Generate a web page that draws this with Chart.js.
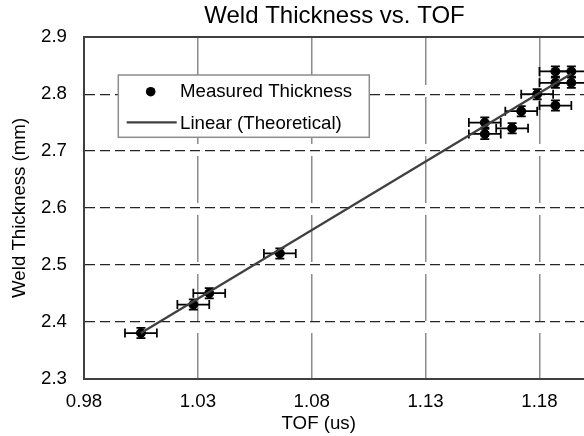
<!DOCTYPE html>
<html><head><meta charset="utf-8">
<script src="https://cdn.jsdelivr.net/npm/chart.js@4.4.1/dist/chart.umd.min.js"></script>
<style>
html,body{margin:0;padding:0;background:#fff;overflow:hidden;}
body{width:584px;height:436px;}
canvas{display:block;}
</style></head><body>
<canvas id="c" width="600" height="436"></canvas>
<script>
const FONT = '"Liberation Sans", Arial, sans-serif';
const chartTitle = 'Weld Thickness vs. TOF';
const xAxisTitle = 'TOF (us)';
const yAxisTitle = 'Weld Thickness (mm)';
const seriesNames = ['Measured Thickness', 'Linear (Theoretical)'];

const tofValues       = [1.005, 1.028, 1.035, 1.066, 1.156, 1.156, 1.168, 1.172, 1.179, 1.187, 1.187, 1.187, 1.194, 1.194];
const thicknessValues = [2.38,  2.43,  2.45,  2.52,  2.75,  2.73,  2.74,  2.77,  2.80,  2.84,  2.82,  2.78,  2.84,  2.82];
const tofErrors       = [0.007, 0.007, 0.007, 0.007, 0.007, 0.007, 0.007, 0.007, 0.007, 0.007, 0.007, 0.007, 0.007, 0.007];
const thicknessErrors = [0.009, 0.009, 0.009, 0.009, 0.009, 0.009, 0.009, 0.009, 0.009, 0.009, 0.009, 0.009, 0.009, 0.009];

const trendTof       = [1.005, 1.194];
const trendThickness = [2.38, 2.836];

const xTickValues = [0.98, 1.03, 1.08, 1.13, 1.18];
const yTickValues = [2.3, 2.4, 2.5, 2.6, 2.7, 2.8, 2.9];
const xRange = [0.98, 1.2];
const yRange = [2.3, 2.9];

const errorBarPlugin = {
  id: 'errorBars',
  beforeDatasetsDraw(chart) {
    const {ctx, scales: {x, y}} = chart;
    ctx.save();
    ctx.strokeStyle = '#000';
    ctx.lineWidth = 1.75;
    const cap = 4.5;
    tofValues.forEach((t, i) => {
      const v = thicknessValues[i];
      const px = x.getPixelForValue(t), py = y.getPixelForValue(v);
      const xl = x.getPixelForValue(t - tofErrors[i]), xr = x.getPixelForValue(t + tofErrors[i]);
      const yt = y.getPixelForValue(v + thicknessErrors[i]), yb = y.getPixelForValue(v - thicknessErrors[i]);
      ctx.beginPath();
      ctx.moveTo(xl, py); ctx.lineTo(xr, py);
      ctx.moveTo(xl, py - cap); ctx.lineTo(xl, py + cap);
      ctx.moveTo(xr, py - cap); ctx.lineTo(xr, py + cap);
      ctx.moveTo(px, yt); ctx.lineTo(px, yb);
      ctx.moveTo(px - cap, yt); ctx.lineTo(px + cap, yt);
      ctx.moveTo(px - cap, yb); ctx.lineTo(px + cap, yb);
      ctx.stroke();
    });
    ctx.restore();
  }
};

const textPlugin = {
  id: 'texts',
  afterDraw(chart) {
    const {ctx, chartArea: a} = chart;
    ctx.save();
    ctx.fillStyle = '#000';
    ctx.textBaseline = 'alphabetic';
    ctx.textAlign = 'center';
    ctx.font = '24px ' + FONT;
    ctx.fillText(chartTitle, (a.left + a.right) / 2, 23);
    ctx.font = '18.67px ' + FONT;
    ctx.fillText(xAxisTitle, a.left + 234.7, 429);

    // legend box
    const lx = a.left + 34.3, ly = a.top + 37.7, lw = 251, lh = 62.3;
    ctx.fillStyle = '#fff';
    ctx.fillRect(lx, ly, lw, lh);
    ctx.strokeStyle = '#8c8c8c';
    ctx.lineWidth = 1.5;
    ctx.strokeRect(lx, ly, lw, lh);
    ctx.fillStyle = '#000';
    ctx.beginPath();
    ctx.arc(lx + 32.4, ly + 16.7, 4.8, 0, Math.PI * 2);
    ctx.fill();
    ctx.strokeStyle = '#404040';
    ctx.lineWidth = 2.25;
    ctx.beginPath();
    ctx.moveTo(lx + 8.4, ly + 47.3);
    ctx.lineTo(lx + 58.4, ly + 47.3);
    ctx.stroke();
    ctx.textAlign = 'left';
    ctx.font = '18.67px ' + FONT;
    ctx.fillText(seriesNames[0], lx + 61.7, ly + 22.3);
    ctx.fillText(seriesNames[1], lx + 61.7, ly + 54.3);
    ctx.restore();
  }
};

const tickFont = {family: FONT, size: 18.67};

new Chart(document.getElementById('c'), {
  type: 'scatter',
  data: {
    datasets: [
      {
        label: seriesNames[1],
        type: 'line',
        data: trendTof.map((x, i) => ({x, y: trendThickness[i]})),
        borderColor: '#404040',
        borderWidth: 2.25,
        pointRadius: 0,
        fill: false,
        order: 0
      },
      {
        label: seriesNames[0],
        data: tofValues.map((x, i) => ({x, y: thicknessValues[i]})),
        backgroundColor: '#000',
        borderColor: '#000',
        borderWidth: 1,
        pointRadius: 4.5,
        pointHoverRadius: 4.5,
        order: 1
      }
    ]
  },
  options: {
    responsive: false,
    animation: false,
    devicePixelRatio: 1,
    events: [],
    layout: {padding: {top: 37.3, right: 15, left: 0, bottom: 0}},
    plugins: {legend: {display: false}, title: {display: false}, tooltip: {enabled: false}},
    scales: {
      x: {
        type: 'linear', position: 'bottom', min: xRange[0], max: xRange[1],
        afterBuildTicks: s => { s.ticks = xTickValues.map(v => ({value: v})); },
        afterFit: s => { s.height = 57.5; },
        ticks: {font: tickFont, color: '#000', padding: 12, maxRotation: 0, autoSkip: false,
                callback: v => Number(v).toFixed(2)},
        grid: {color: c => (c.tick && c.tick.value === xRange[0]) ? 'rgba(0,0,0,0)' : '#8c8c8c',
               lineWidth: 1.5, drawTicks: false},
        border: {color: '#404040', width: 2, dash: [47, 12], dashOffset: 58.3}
      },
      x2: {
        type: 'linear', position: 'top', min: xRange[0], max: xRange[1],
        afterFit: s => { s.height = 0; },
        ticks: {display: false},
        grid: {display: false, drawTicks: false},
        border: {display: true, color: '#404040', width: 2}
      },
      y: {
        type: 'linear', position: 'left', min: yRange[0], max: yRange[1],
        afterBuildTicks: s => { s.ticks = yTickValues.map(v => ({value: v})); },
        afterFit: s => { s.width = 84; },
        ticks: {font: tickFont, color: '#000', padding: 17, autoSkip: false,
                callback: v => Number(v).toFixed(1)},
        grid: {color: c => (c.tick && (Math.abs(c.tick.value - yRange[0]) < 1e-9 || Math.abs(c.tick.value - yRange[1]) < 1e-9)) ? 'rgba(0,0,0,0)' : '#262626',
               lineWidth: 1.25, drawTicks: false},
        border: {color: '#404040', width: 2, dash: [10, 5]},
        title: {display: true, text: yAxisTitle, font: tickFont, color: '#000', padding: {top: 9, bottom: 0}}
      }
    }
  },
  plugins: [errorBarPlugin, textPlugin]
});
</script>
</body></html>
